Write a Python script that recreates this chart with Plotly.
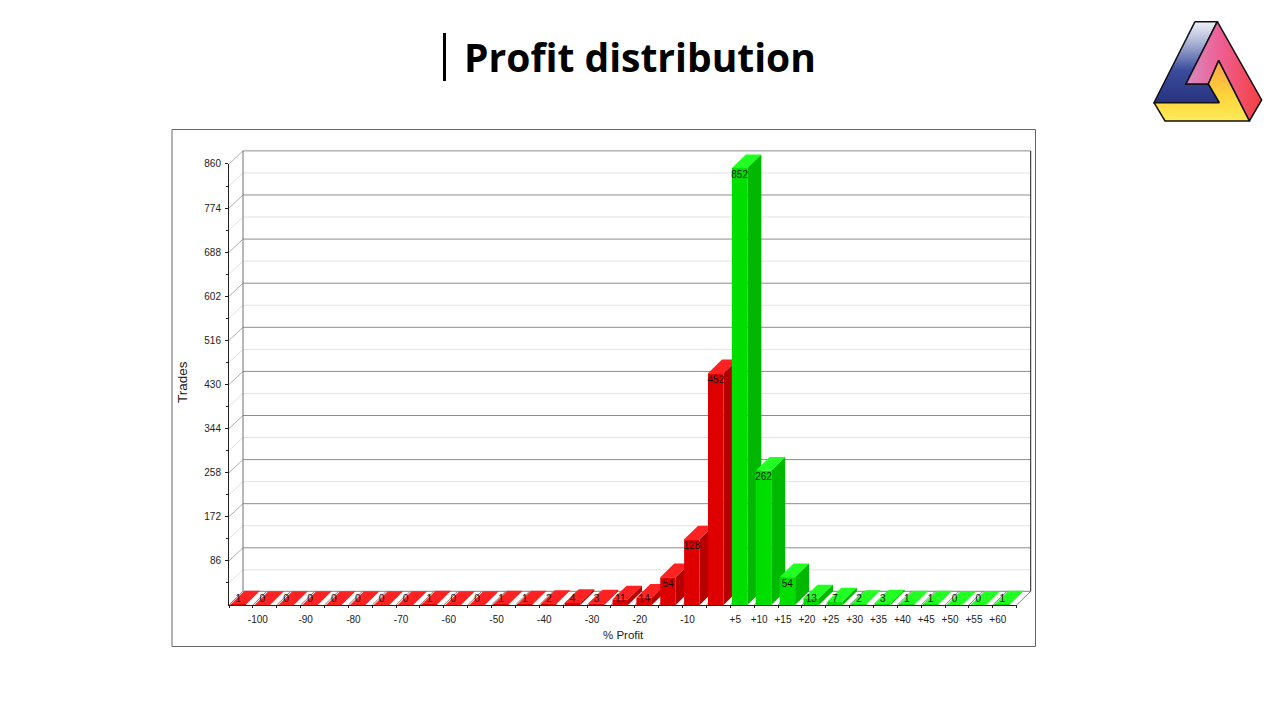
import plotly.graph_objects as go

# ---- data ----
trades = [1, 0, 0, 0, 0, 0, 0, 0, 1, 0, 0, 1, 1, 2, 4, 3, 11, 14, 54, 128, 452,
          852, 262, 54, 13, 7, 2, 3, 1, 1, 0, 0, 1]
first_green = 21
x_tick_labels = ["", "-100", "", "-90", "", "-80", "", "-70", "", "-60", "", "-50", "", "-40", "",
                 "-30", "", "-20", "", "-10", "", "+5", "+10", "+15", "+20", "+25", "+30", "+35",
                 "+40", "+45", "+50", "+55", "+60", ""]
y_major = [86, 172, 258, 344, 430, 516, 602, 688, 774, 860]
y_minor = [43, 129, 215, 301, 387, 473, 559, 645, 731, 817]

# ---- pixel <-> data geometry ----
W, H = 1280, 720
SLOT_PX = 23.87
UNIT_PX = 0.5128
LEFT, RIGHT, BOTTOM, TOP = 229, 1032, 605, 146
DX = 14 / SLOT_PX          # depth offset in slots
DY = 13.7 / UNIT_PX        # depth offset of the bars in trades
GY = 13.1 / UNIT_PX        # depth offset of the wall lines in trades
BAR_L, BAR_W = 0.067, 0.65
N = len(trades)
Y_MAX = y_major[-1]
XR = [0, (RIGHT - LEFT) / SLOT_PX]
YR = [0, (BOTTOM - TOP) / UNIT_PX]
XB = N + DX                # right edge of the back wall
YB = Y_MAX + GY            # top edge of the back wall
TXT = "Liberation Sans"

RED = dict(front="#DE0000", side="#B60000", top="#FF2222")
GREEN = dict(front="#00DE00", side="#00B800", top="#22FF22")

fig = go.Figure()


def line(xs, ys, color, width=1):
    fig.add_trace(go.Scatter(x=xs, y=ys, mode="lines", hoverinfo="skip",
                             line=dict(color=color, width=width), showlegend=False))


def poly(xs, ys, color):
    fig.add_trace(go.Scatter(x=xs, y=ys, mode="lines", fill="toself", fillcolor=color,
                             line=dict(width=0, color=color), hoverinfo="skip", showlegend=False))


# back wall grid and its diagonals
for v in y_minor:
    line([0, DX, XB], [v, v + GY, v + GY], "#E2E2E2")
for v in y_major:
    line([DX, XB], [v + GY, v + GY], "#8C8C8C")
for v in y_major:
    line([0, DX], [v, v + GY], "#B0B0B0")
# floor
line([DX, XB], [DY, DY], "#808080")
for i in range(N + 1):
    line([i, i + DX], [0, DY], "#808080")
# wall edges
line([DX, DX], [DY, YB], "#707070")
line([XB, XB], [DY, YB], "#202020")

# top and side faces, painted left to right
for i, v in enumerate(trades):
    c = GREEN if i >= first_green else RED
    x0, x1 = i + BAR_L, i + BAR_L + BAR_W
    poly([x0, x1, x1 + DX, x0 + DX, x0], [v, v, v + DY, v + DY, v], c["top"])
    if v > 0:
        poly([x1, x1 + DX, x1 + DX, x1, x1], [0, DY, v + DY, v, 0], c["side"])

# front faces on the visible axes, which are painted above the depth subplot
fig.add_trace(go.Bar(x=[i + BAR_L + BAR_W / 2 for i in range(N)], y=trades, width=BAR_W,
                     marker=dict(color=[GREEN["front"] if i >= first_green else RED["front"] for i in range(N)],
                                 line=dict(width=0)),
                     xaxis="x2", yaxis="y2", hoverinfo="skip", showlegend=False))
fig.add_trace(go.Scatter(x=[i + BAR_L + BAR_W / 2 for i in range(N)],
                         y=[max(v - 7 / UNIT_PX, 5 / UNIT_PX) for v in trades],
                         text=[str(v) for v in trades], mode="text", textposition="middle center",
                         textfont=dict(family=TXT, size=10, color="#111"),
                         xaxis="x2", yaxis="y2", hoverinfo="skip", showlegend=False))

# logo on its own small axes, in zoom-crop coordinates
LOGO_X, LOGO_Y, LOGO_W, LOGO_H, LOGO_S = 1140, 10, 130, 120, 3


def logo_face(pts, gradient):
    xs = [p[0] for p in pts] + [pts[0][0]]
    ys = [p[1] for p in pts] + [pts[0][1]]
    fig.add_trace(go.Scatter(x=xs, y=ys, mode="lines", fill="toself", xaxis="x3", yaxis="y3",
                             fillgradient=gradient, line=dict(color="#101018", width=1.5),
                             hoverinfo="skip", showlegend=False))


logo_face([(165, 35), (232, 35), (138, 222), (205, 222), (238, 278), (42, 278)],
          dict(type="vertical", colorscale=[[0, "#28337F"], [0.4, "#3A4C9C"], [0.75, "#AEB6D8"], [1, "#F2F2F6"]]))
logo_face([(232, 35), (365, 270), (328, 333), (236, 152), (205, 222), (138, 222)],
          dict(type="horizontal", colorscale=[[0, "#D78CC0"], [0.45, "#EE5F93"], [1, "#F4403F"]]))
logo_face([(42, 278), (238, 278), (205, 222), (236, 152), (328, 333), (75, 333)],
          dict(type="vertical", colorscale=[[0, "#FDEB55"], [0.45, "#FFD23C"], [1, "#FF9F45"]]))

fig.update_layout(
    width=W, height=H, autosize=False, margin=dict(l=0, r=0, t=0, b=0, autoexpand=False),
    paper_bgcolor="white", plot_bgcolor="rgba(0,0,0,0)", showlegend=False, barmode="overlay",
    title=dict(text="<b>Profit distribution</b>", x=640 / W, y=1 - 58.2 / H, xanchor="center", yanchor="middle",
               font=dict(family="Open Sans", size=39, color="black")),
    # depth subplot: walls, floor, side and top faces
    xaxis=dict(domain=[LEFT / W, RIGHT / W], range=XR, visible=False, anchor="y"),
    yaxis=dict(domain=[1 - BOTTOM / H, 1 - TOP / H], range=YR, visible=False, anchor="x"),
    # visible axes: the front plane of the chart
    xaxis2=dict(domain=[LEFT / W, (LEFT + N * SLOT_PX) / W], range=[0, N], showgrid=False, zeroline=False,
                showline=True, linecolor="#202020", linewidth=1,
                tickmode="array", tickvals=list(range(N + 1)), ticktext=x_tick_labels, ticks="outside",
                ticklen=2, tickcolor="#202020", tickangle=0, ticklabelstandoff=3, ticklabelshift=5,
                tickfont=dict(family=TXT, size=10, color="#222"), anchor="y2", automargin=False),
    yaxis2=dict(domain=[1 - BOTTOM / H, 1 - (BOTTOM - Y_MAX * UNIT_PX) / H], range=[0, Y_MAX], showgrid=False,
                zeroline=False, showline=True, linecolor="#202020", linewidth=1,
                tickmode="array", tickvals=y_major, ticktext=[str(v) for v in y_major], ticks="outside",
                ticklen=3, tickcolor="#202020", ticklabelstandoff=2,
                minor=dict(tickmode="array", tickvals=y_minor, ticks="outside", ticklen=2, tickcolor="#202020"),
                tickfont=dict(family=TXT, size=10, color="#222"), anchor="x2", automargin=False),
    xaxis3=dict(domain=[LOGO_X / W, (LOGO_X + LOGO_W) / W], range=[0, LOGO_W * LOGO_S], visible=False, anchor="y3"),
    yaxis3=dict(domain=[1 - (LOGO_Y + LOGO_H) / H, 1 - LOGO_Y / H], range=[LOGO_H * LOGO_S, 0], visible=False,
                anchor="x3"),
    shapes=[
        dict(type="rect", xref="paper", yref="paper", x0=172 / W, x1=1035.5 / W, y0=1 - 129.5 / H, y1=1 - 646.5 / H,
             line=dict(color="#666", width=1), fillcolor="rgba(0,0,0,0)", layer="below"),
        dict(type="line", xref="paper", yref="paper", x0=444.5 / W, x1=444.5 / W, y0=1 - 33 / H, y1=1 - 81 / H,
             line=dict(color="black", width=3)),
    ],
    annotations=[
        dict(text="Trades", xref="paper", yref="paper", x=182 / W, y=1 - 382 / H, showarrow=False, textangle=-90,
             xanchor="center", yanchor="middle", font=dict(family=TXT, size=13.5, color="#222")),
        dict(text="% Profit", xref="paper", yref="paper", x=623 / W, y=1 - 635 / H, showarrow=False,
             xanchor="center", yanchor="middle", font=dict(family=TXT, size=11.5, color="#222")),
    ],
)
fig.write_html("out.html", config=dict(displayModeBar=False),
               post_script="document.body.style.margin='0';document.documentElement.style.margin='0';")
